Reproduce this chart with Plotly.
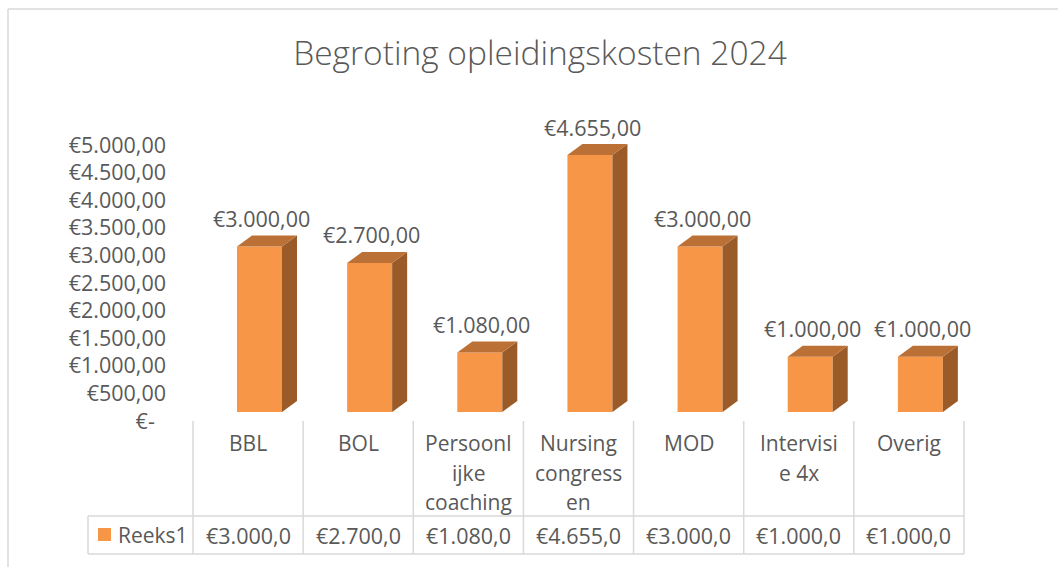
import plotly.graph_objects as go

# ---- data ----
categories = ["BBL", "BOL", "Persoonlijke coaching", "Nursing congressen", "MOD", "Intervisie 4x", "Overig"]
category_ticklabels = [["BBL"], ["BOL"], ["Persoonl", "ijke", "coaching"], ["Nursing", "congress", "en"],
                       ["MOD"], ["Intervisi", "e 4x"], ["Overig"]]
values = [3000, 2700, 1080, 4655, 3000, 1000, 1000]
series_name = "Reeks1"
y_tickvals = [0, 500, 1000, 1500, 2000, 2500, 3000, 3500, 4000, 4500, 5000]
title_text = "Begroting opleidingskosten 2024"

W, H = 1058, 567
FONT = "Open Sans"
TXT = "#595959"
GRID = "#D9D9D9"
FRONT = "#F79646"
SIDE = "#9A5B28"
TOP = "#BB7036"


def eur(v, dec):
    s = f"{v:,.{dec}f}"
    s = s.replace(",", "X").replace(".", ",").replace("X", ".")
    return "€" + s


def px(x):
    return x / W


def py(y):
    return 1 - y / H


# pixel geometry (reference picture coordinates)
x_left, x_right = 193, 964
n = len(categories)
col_w = (x_right - x_left) / n
y_zero, y_top = 421, 100
scale = 276 / 5000  # px per unit
y_range = [0, (y_zero - y_top) / scale]
shift = 9 / scale
dx = 15 / col_w
dy = 11 / scale
bar_w = 45 / col_w
bar_off = 44 / col_w - 0.5
y_dom = [py(y_zero), py(y_top)]

fig = go.Figure()
xs = list(range(n))
fig.add_trace(go.Bar(x=xs, y=values, width=bar_w, offset=bar_off, marker=dict(color=FRONT, line=dict(width=0)),
                     hoverinfo="skip", showlegend=False))

for i, v in enumerate(values):
    xl = i + bar_off
    xr = xl + bar_w
    fig.add_trace(go.Scatter(x=[xr, xr + dx, xr + dx, xr, xr], y=[0, dy, v + dy, v, 0], fill="toself",
                             fillcolor=SIDE, line=dict(width=0), mode="lines",
                             hoverinfo="skip", showlegend=False))
    fig.add_trace(go.Scatter(x=[xl, xr, xr + dx, xl + dx, xl], y=[v, v, v + dy, v + dy, v], fill="toself",
                             fillcolor=TOP, line=dict(width=0), mode="lines",
                             hoverinfo="skip", showlegend=False))

# invisible trace to carry the value axis (labels drawn on the wall position)
fig.add_trace(go.Scatter(x=[0], y=[0], yaxis="y2", mode="markers", marker=dict(opacity=0),
                         hoverinfo="skip", showlegend=False))

annotations = []
for i, v in enumerate(values):
    annotations.append(dict(x=i + bar_off + bar_w / 2 + 0.02, y=v, xref="x", yref="y", text=eur(v, 2),
                            showarrow=False, yshift=28, font=dict(family=FONT, size=21.5, color=TXT)))
    for j, line in enumerate(category_ticklabels[i]):
        annotations.append(dict(x=i, y=py(443 + j * 29.5), xref="x", yref="paper", text=line, showarrow=False,
                                yanchor="middle", font=dict(family=FONT, size=21, color=TXT)))
    annotations.append(dict(x=i, y=py(535), xref="x", yref="paper", text=eur(v, 1), showarrow=False,
                            yanchor="middle", font=dict(family=FONT, size=21.5, color=TXT)))

annotations.append(dict(x=px(116), y=py(535), xref="paper", yref="paper", text=series_name, showarrow=False,
                        xanchor="left", yanchor="middle", font=dict(family=FONT, size=21, color=TXT)))

shapes = []
line_style = dict(color=GRID, width=1.5)
# chart border
shapes.append(dict(type="line", xref="paper", yref="paper", x0=px(8), x1=px(1070), y0=py(9), y1=py(9), line=line_style))
shapes.append(dict(type="line", xref="paper", yref="paper", x0=px(8), x1=px(8), y0=py(9), y1=py(580), line=line_style))
# data table
for k in range(n + 1):
    xk = x_left + k * col_w
    shapes.append(dict(type="line", xref="paper", yref="paper", x0=px(xk), x1=px(xk), y0=py(421), y1=py(554), line=line_style))
shapes.append(dict(type="line", xref="paper", yref="paper", x0=px(88), x1=px(88), y0=py(516), y1=py(554), line=line_style))
for yy in (516, 554):
    shapes.append(dict(type="line", xref="paper", yref="paper", x0=px(88), x1=px(x_right), y0=py(yy), y1=py(yy), line=line_style))
# legend key
shapes.append(dict(type="rect", xref="paper", yref="paper", x0=px(98), x1=px(111), y0=py(528), y1=py(541),
                   fillcolor=FRONT, line=dict(width=0)))

y_ticktext = [eur(t, 2) if t > 0 else "€-\u00a0\u00a0" for t in y_tickvals]

fig.update_layout(
    autosize=True,
    margin=dict(l=0, r=0, t=0, b=0, autoexpand=False),
    paper_bgcolor="white", plot_bgcolor="rgba(0,0,0,0)",
    title=dict(text=title_text, x=540 / W, xanchor="center", y=py(53), yanchor="middle",
               font=dict(family=FONT, size=33.5, color=TXT, weight=300)),
    xaxis=dict(domain=[px(x_left), px(x_right)], range=[-0.5, n - 0.5], visible=False, fixedrange=True),
    yaxis=dict(domain=y_dom, range=[y_range[0] - shift, y_range[1] - shift], visible=False, fixedrange=True),
    yaxis2=dict(domain=y_dom, overlaying="y", range=y_range, anchor="free", position=px(166), side="left",
                tickvals=y_tickvals, ticktext=y_ticktext, showgrid=False, zeroline=False, showline=False,
                ticks="", tickfont=dict(family=FONT, size=21.5, color=TXT), fixedrange=True),
    annotations=annotations,
    shapes=shapes,
    showlegend=False,
)

fig.write_html("out.html", default_width="100vw", default_height="100vh",
               config=dict(displayModeBar=False, responsive=True),
               post_script="document.body.style.margin='0';document.body.style.overflow='hidden';")
